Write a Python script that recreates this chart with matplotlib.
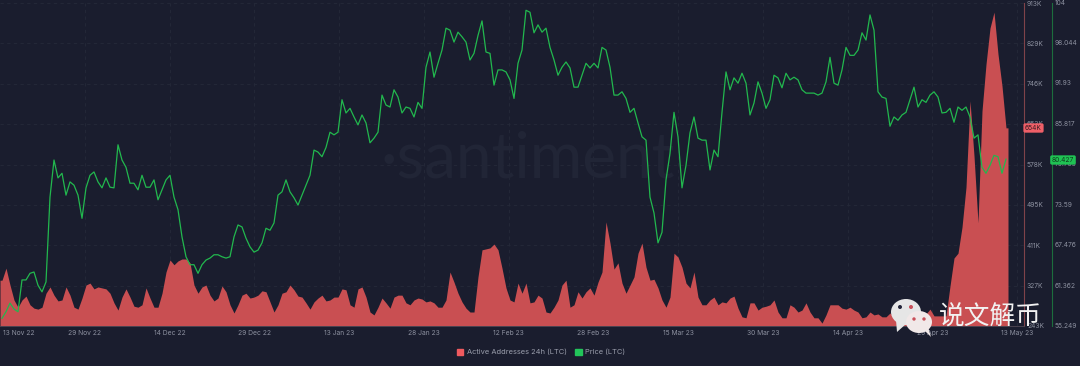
import numpy as np
import matplotlib
matplotlib.use("Agg")
import matplotlib.pyplot as plt
from matplotlib.patches import Ellipse, Patch, Polygon

# active addresses (K), one reading every ~17h
addresses = [
    338, 363, 328, 297, 282, 297, 305, 287, 280, 278,
    282, 311, 324, 307, 295, 297, 324, 307, 282, 278,
    301, 328, 332, 320, 324, 322, 320, 311, 291, 276,
    303, 320, 303, 284, 282, 287, 322, 301, 282, 282,
    311, 355, 380, 370, 378, 382, 382, 374, 328, 311,
    324, 328, 307, 295, 301, 326, 314, 287, 270, 287,
    307, 311, 301, 303, 307, 316, 314, 293, 272, 287,
    311, 314, 328, 318, 305, 303, 291, 278, 293, 301,
    307, 295, 297, 303, 303, 320, 318, 287, 282, 320,
    324, 303, 272, 266, 282, 301, 291, 280, 303, 307,
    307, 291, 287, 297, 301, 299, 293, 295, 291, 282,
    282, 297, 355, 334, 311, 293, 280, 272, 272, 345,
    401, 403, 405, 413, 401, 363, 322, 297, 293, 332,
    311, 332, 291, 293, 307, 301, 272, 270, 282, 297,
    328, 338, 282, 287, 314, 301, 314, 322, 307, 334,
    355, 459, 415, 361, 374, 332, 311, 328, 345, 394,
    415, 365, 338, 340, 322, 297, 282, 303, 394, 386,
    365, 332, 322, 355, 303, 287, 287, 297, 303, 287,
    293, 291, 301, 305, 280, 262, 260, 291, 291, 276,
    282, 284, 287, 297, 272, 260, 260, 287, 282, 272,
    276, 291, 272, 260, 260, 249, 266, 287, 287, 287,
    280, 278, 282, 276, 272, 260, 262, 272, 266, 268,
    262, 262, 270, 262, 262, 264, 262, 260, 260, 262,
    264, 268, 278, 264, 264, 264, 264,
    326, 384, 394, 448, 531, 710, 596, 457, 689, 786,
    861, 894, 807, 741, 654,
]

price = [
    56.4, 57.4, 58.7, 57.8, 57.4, 62.2, 62.2, 63.2, 63.4, 61.4,
    60.4, 61.9, 74.7, 80.3, 77.6, 78.3, 75.0, 77.0, 76.5, 75.0,
    71.5, 76.1, 78.0, 78.5, 77.0, 76.1, 77.6, 76.2, 76.1, 82.6,
    80.3, 79.2, 76.8, 76.8, 75.8, 78.0, 76.2, 76.2, 77.3, 74.3,
    75.8, 77.3, 78.0, 74.7, 72.8, 68.7, 65.7, 64.5, 64.5, 63.2,
    64.5, 65.2, 65.5, 66.0, 66.0, 65.7, 65.5, 65.7, 68.7, 70.5,
    70.2, 68.5, 67.2, 66.4, 66.7, 67.8, 70.0, 69.7, 70.8, 75.0,
    75.5, 77.3, 75.5, 74.6, 73.5, 75.0, 76.5, 78.0, 81.8, 81.5,
    80.8, 82.2, 84.5, 84.1, 84.5, 89.4, 87.4, 88.1, 86.8, 85.6,
    87.1, 85.9, 82.9, 83.6, 84.5, 90.1, 88.6, 88.3, 90.9, 89.8,
    87.4, 88.3, 88.1, 86.8, 89.0, 88.1, 94.3, 96.6, 92.8, 94.9,
    96.9, 100.2, 99.9, 98.1, 99.6, 98.9, 98.1, 95.4, 96.4, 99.1,
    101.3, 96.6, 96.4, 91.6, 93.9, 93.9, 93.6, 92.4, 89.6, 94.9,
    96.9, 102.9, 102.6, 99.5, 100.7, 99.6, 100.2, 97.3, 95.4, 93.1,
    94.3, 95.1, 94.2, 91.3, 91.3, 93.1, 94.9, 94.2, 94.9, 94.2,
    97.3, 96.9, 94.3, 90.1, 90.1, 90.6, 89.6, 87.5, 88.1, 85.9,
    83.8, 83.3, 74.7, 72.3, 67.8, 69.4, 77.3, 81.3, 87.5, 83.8,
    76.1, 79.5, 84.4, 86.8, 83.6, 83.3, 83.3, 78.8, 81.8, 80.8,
    87.5, 93.6, 90.9, 92.7, 91.9, 93.4, 91.9, 87.1, 88.9, 92.1,
    90.4, 88.1, 89.4, 93.1, 92.7, 91.2, 93.4, 92.4, 92.8, 92.4,
    90.9, 90.4, 90.4, 90.4, 90.1, 90.4, 92.1, 95.8, 91.9, 91.6,
    93.9, 97.3, 96.1, 96.1, 96.9, 99.5, 98.4, 102.2, 99.9, 90.6,
    89.8, 89.6, 85.4, 86.8, 86.3, 87.1, 87.5, 89.4, 91.3, 88.3,
    89.4, 89.0, 90.1, 90.6, 89.8, 87.4, 87.5, 88.1, 86.0, 88.3,
    87.8, 88.3, 86.8, 83.6, 84.1, 79.2, 78.3, 79.5, 81.0, 80.8,
    78.3, 80.427,
]

date_ticks = [0.5, 15, 30, 45, 60, 75, 90, 105, 120, 135, 150, 165, 180]
date_labels = ["13 Nov 22", "29 Nov 22", "14 Dec 22", "29 Dec 22", "13 Jan 23", "28 Jan 23",
               "12 Feb 23", "28 Feb 23", "15 Mar 23", "30 Mar 23", "14 Apr 23", "29 Apr 23", "13 May 23"]
addr_ticks = [913, 829, 746, 663, 578, 495, 411, 327, 243]
price_ticks = [104, 98.044, 91.93, 85.817, 79.703, 73.59, 67.476, 61.362, 55.249]
price_labels = ["104", "98.044", "91.93", "85.817", "79.703", "73.59", "67.476", "61.362", "55.249"]

BG = "#1a1d2e"
RED = "#c94f52"
GREEN = "#22b84e"
TXT = "#8d91a0"
GRID = "#252939"

W, H = 1080, 366
plt.rcParams["font.family"] = ["Inter", "DejaVu Sans"]

fig = plt.figure(figsize=(W / 100, H / 100), dpi=100, facecolor=BG)
ax = fig.add_axes([0, 1 - 326 / H, 1023.5 / W, 323 / H], facecolor=BG)

step = 4 / 5.65
days = (np.arange(len(addresses)) + 0.5) * step
ax.fill_between(np.r_[0, days, days[-1] + step / 2], np.r_[addresses[0], addresses, addresses[-1]], 243,
                color=RED, linewidth=0, zorder=2)
ax.set_xlim(0, 1023.5 / 5.65)
ax.set_ylim(243, 913)
ax.text(0.516, 0.515, "\u00b7santiment", transform=ax.transAxes, ha="center", va="center",
        fontsize=46, color="#212536", family="Lato", zorder=1)

ax.set_xticks(date_ticks)
ax.set_xticklabels(date_labels)
ax.get_xticklabels()[0].set_ha("left")
ax.tick_params(axis="x", length=0, pad=3, labelsize=4.8, labelcolor=TXT)
ax.set_yticks(addr_ticks)
ax.set_yticklabels([str(v) + "K" for v in addr_ticks])
ax.grid(True, color=GRID, linewidth=0.6, linestyle=(0, (4, 4)), zorder=0)
ax.set_axisbelow(True)
ax.xaxis.get_gridlines()[0].set_visible(False)
for s in ["top", "left"]:
    ax.spines[s].set_visible(False)
ax.spines["right"].set_color("#80434a")
ax.spines["right"].set_linewidth(0.8)
ax.spines["bottom"].set_color("#4a4350")
ax.spines["bottom"].set_linewidth(0.7)

ax2 = ax.twinx()
ax.yaxis.tick_right()
ax.tick_params(axis="y", length=0, pad=2.5, labelsize=4.8, labelcolor=TXT)
ax2.plot(days, price, color=GREEN, linewidth=0.9, zorder=3)
ax2.set_ylim(55.249, 104)
ax2.set_yticks(price_ticks)
ax2.set_yticklabels(price_labels)
ax2.tick_params(axis="y", length=0, pad=2.5, labelsize=4.8, labelcolor=TXT)
for s in ["top", "left", "bottom"]:
    ax2.spines[s].set_visible(False)
ax2.spines["right"].set_position(("outward", 28 * 0.72))
ax2.spines["right"].set_color("#1c6e3d")
ax2.spines["right"].set_linewidth(0.8)

# overlay in pixel coordinates: flags, logo, legend
pix = fig.add_axes([0, 0, 1, 1], facecolor="none")
pix.set_xlim(0, W)
pix.set_ylim(H, 0)
pix.axis("off")

pix.text(1033.5, 128, "654K", fontsize=4.8, color="#3a1c22", ha="center", va="center",
         bbox=dict(boxstyle="round,pad=0.25", fc="#ef5f68", ec="none"))
pix.text(1063, 160, "80.427", fontsize=4.8, color="#0f3a1e", ha="center", va="center",
         bbox=dict(boxstyle="round,pad=0.25", fc="#1fc253", ec="none"))

pix.add_patch(Ellipse((906, 312), 30, 26, fc="#e6e6e6", ec="none", zorder=5))
pix.add_patch(Polygon([[896, 320], [897, 332], [906, 324]], fc="#e6e6e6", ec="none", zorder=5))
pix.add_patch(Ellipse((900, 307), 4, 4, fc="#23253a", ec="none", zorder=6))
pix.add_patch(Ellipse((911, 307), 4, 4, fc="#c9505a", ec="none", zorder=6))
pix.add_patch(Ellipse((919, 322), 26, 22, fc="#f1e8e8", ec="none", zorder=7))
pix.add_patch(Polygon([[924, 330], [931, 337], [928, 327]], fc="#f1e8e8", ec="none", zorder=7))
pix.add_patch(Ellipse((914, 319), 3.4, 3.4, fc="#c9505a", ec="none", zorder=8))
pix.add_patch(Ellipse((924, 319), 3.4, 3.4, fc="#c9505a", ec="none", zorder=8))
pix.text(990, 318, "\u8bf4\u6587\u89e3\u5e01", fontsize=18.5, color="#f2f2f2", ha="center", va="center",
         family=["Noto Sans CJK SC", "DejaVu Sans"], zorder=9)

handles = [Patch(color="#ef5a5f"), Patch(color="#22c55a")]
fig.legend(handles, ["Active Addresses 24h (LTC)", "Price (LTC)"], loc="center",
           bbox_to_anchor=(541 / W, 1 - 352 / H), ncol=2, frameon=False, fontsize=5.4,
           labelcolor="#9a9eac", handlelength=0.9, handleheight=0.9, handletextpad=0.45,
           columnspacing=1.1)

fig.savefig("out.png", dpi=100, facecolor=BG)
